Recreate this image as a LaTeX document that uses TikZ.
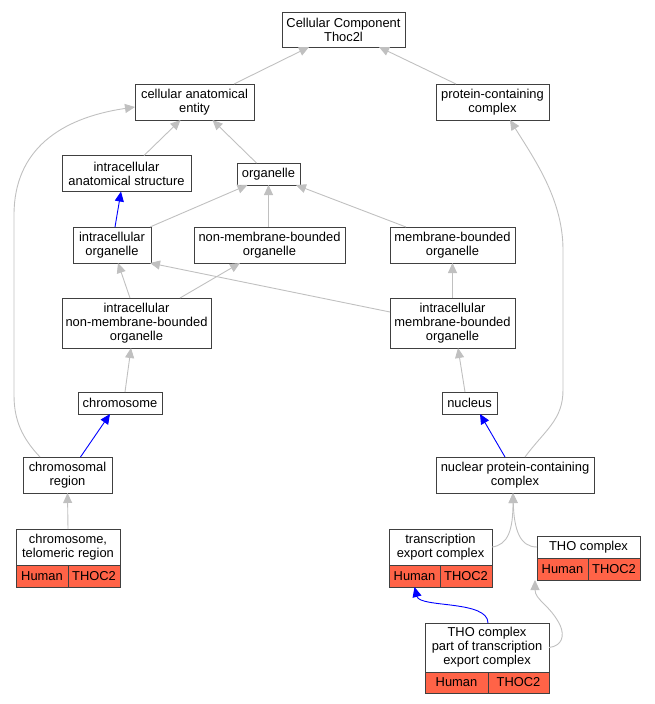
\documentclass[tikz,border=0pt]{standalone}
\usepackage{fontspec}
\setmainfont{Liberation Sans}
\usetikzlibrary{arrows.meta,positioning}

\definecolor{tomato}{RGB}{255,99,71}
\definecolor{isagray}{RGB}{192,192,192}

\tikzset{
  term/.style={draw=black!75, line width=1pt, fill=white, inner sep=0pt, outer sep=0pt,
    align=center, font=\fontsize{12.9}{14}\selectfont},
  cell/.style={term, fill=tomato, minimum height=22pt},
  isa/.style={draw=isagray, line width=0.9pt, -{Triangle[length=10pt,width=9pt]}},
  partof/.style={draw=blue, line width=0.9pt, -{Triangle[length=10pt,width=9pt]}}
}

\begin{document}
\begin{tikzpicture}[x=1pt, y=-1pt]
            \useasboundingbox (0,0) rectangle (655,704);

            % Draw the terms
            \node[term, minimum width=123pt, minimum height=35pt] (cc)    at (343.5,29.5) {Cellular Component\\Thoc2l};
            \node[term, minimum width=119pt, minimum height=36pt] (cae)   at (194.5,102)  {cellular anatomical\\entity};
            \node[term, minimum width=113pt, minimum height=36pt] (pcc)   at (492.5,102)  {protein-containing\\complex};
            \node[term, minimum width=129pt, minimum height=36pt] (ias)   at (126.5,173.5) {intracellular\\anatomical structure};
            \node[term, minimum width=63pt,  minimum height=22pt] (org)   at (268.5,174)  {organelle};
            \node[term, minimum width=78pt,  minimum height=36pt] (io)    at (112,245)    {intracellular\\organelle};
            \node[term, minimum width=151pt, minimum height=36pt] (nmbo)  at (269.5,245)  {non-membrane-bounded\\organelle};
            \node[term, minimum width=125pt, minimum height=36pt] (mbo)   at (452.5,245)  {membrane-bounded\\organelle};
            \node[term, minimum width=149pt, minimum height=50pt] (inmbo) at (136.5,323)  {intracellular\\non-membrane-bounded\\organelle};
            \node[term, minimum width=125pt, minimum height=50pt] (imbo)  at (452.5,323)  {intracellular\\membrane-bounded\\organelle};
            \node[term, minimum width=84pt,  minimum height=22pt] (chr)   at (120,403)    {chromosome};
            \node[term, minimum width=55pt,  minimum height=22pt] (nuc)   at (469.5,403)  {nucleus};
            \node[term, minimum width=89pt,  minimum height=36pt] (chrr)  at (67.5,475)   {chromosomal\\region};
            \node[term, minimum width=158pt, minimum height=36pt] (npcc)  at (515,475)    {nuclear protein-containing\\complex};

            % Annotated terms with their gene cells
            \node[term, minimum width=104pt, minimum height=36pt] (tel)   at (68,547)     {chromosome,\\telomeric region};
            \node[cell, minimum width=52pt, anchor=north west] (telH) at (tel.south west) {Human};
            \node[cell, minimum width=52pt, right=0pt of telH] (telG) {THOC2};

            \node[term, minimum width=103pt, minimum height=36pt] (tec)   at (440.5,547)  {transcription\\export complex};
            \node[cell, minimum width=51pt, anchor=north west] (tecH) at (tec.south west) {Human};
            \node[cell, minimum width=52pt, right=0pt of tecH] (tecG) {THOC2};

            \node[term, minimum width=103pt, minimum height=22pt] (tho)   at (588.5,547)  {THO complex};
            \node[cell, minimum width=51pt, anchor=north west] (thoH) at (tho.south west) {Human};
            \node[cell, minimum width=52pt, right=0pt of thoH] (thoG) {THOC2};

            \node[term, minimum width=124pt, minimum height=49pt] (thop)  at (487,647.5)  {THO complex\\part of transcription\\export complex};
            \node[cell, minimum width=63pt, minimum height=21pt, anchor=north west] (thopH) at (thop.south west) {Human};
            \node[cell, minimum width=61pt, minimum height=21pt, right=0pt of thopH] (thopG) {THOC2};

            % Connect the terms with arrows
            \path
                ([xshift=39.5pt]cae.north) edge[isa] ([xshift=-34.5pt]cc.south)
                ([xshift=-36.5pt]pcc.north) edge[isa] ([xshift=35.5pt]cc.south)
                ([xshift=17.5pt]ias.north) edge[isa] ([xshift=-14pt]cae.south)
                ([xshift=-12pt]org.north) edge[isa] ([xshift=18pt]cae.south)
                ([xshift=38pt]io.north) edge[isa] ([xshift=-21pt]org.south)
                ([xshift=-1pt]nmbo.north) edge[isa] (org.south)
                ([xshift=-46.5pt]mbo.north) edge[isa] ([xshift=27.5pt]org.south)
                ([xshift=-6.5pt]inmbo.north) edge[isa] ([xshift=6pt]io.south)
                ([xshift=43.5pt]inmbo.north) edge[isa] ([xshift=-29.5pt]nmbo.south)
                ([yshift=11pt]imbo.west) edge[isa] ([xshift=-1pt]io.south east)
                (imbo.north) edge[isa] (mbo.south)
                ([xshift=5pt]chr.north) edge[isa] ([xshift=-5.5pt]inmbo.south)
                ([xshift=-4.5pt]nuc.north) edge[isa] ([xshift=5.5pt]imbo.south)
                (tel.north) edge[isa] (chrr.south)
                ([xshift=3pt]io.north) edge[partof] ([xshift=-5.5pt]ias.south)
                ([xshift=13pt]chrr.north) edge[partof] ([xshift=-10pt]chr.south)
                ([xshift=-10pt]npcc.north) edge[partof] ([xshift=10.5pt]nuc.south);

            % Long and bent connectors
            \draw[isa] ([xshift=-27.5pt]chrr.north) .. controls (22,438) and (14,420) .. (14,395)
                -- (14,215) .. controls (14,150) and (60,118) .. ([yshift=-5pt]cae.west);
            \draw[isa] ([xshift=10pt]npcc.north) .. controls (545,430) and (563,420) .. (563,390)
                -- (563,250) .. controls (563,200) and (535,160) .. ([xshift=17.5pt]pcc.south);
            \draw[isa] (tec.east) .. controls (508,545) and (513,530) .. ([xshift=-2pt]npcc.south);
            \draw[isa] (tho.west) .. controls (520,547) and (514,530) .. ([xshift=-2pt]npcc.south);
            \draw[isa] (thop.east) .. controls (562,646) and (565,636) .. (560,625)
                .. controls (550,605) and (535,600) .. ([xshift=-2pt]thoH.south west);
            \draw[partof] ([xshift=1pt]thop.north) .. controls (488,600) and (420,608) .. (tecH.south);
    \end{tikzpicture}
\end{document}
